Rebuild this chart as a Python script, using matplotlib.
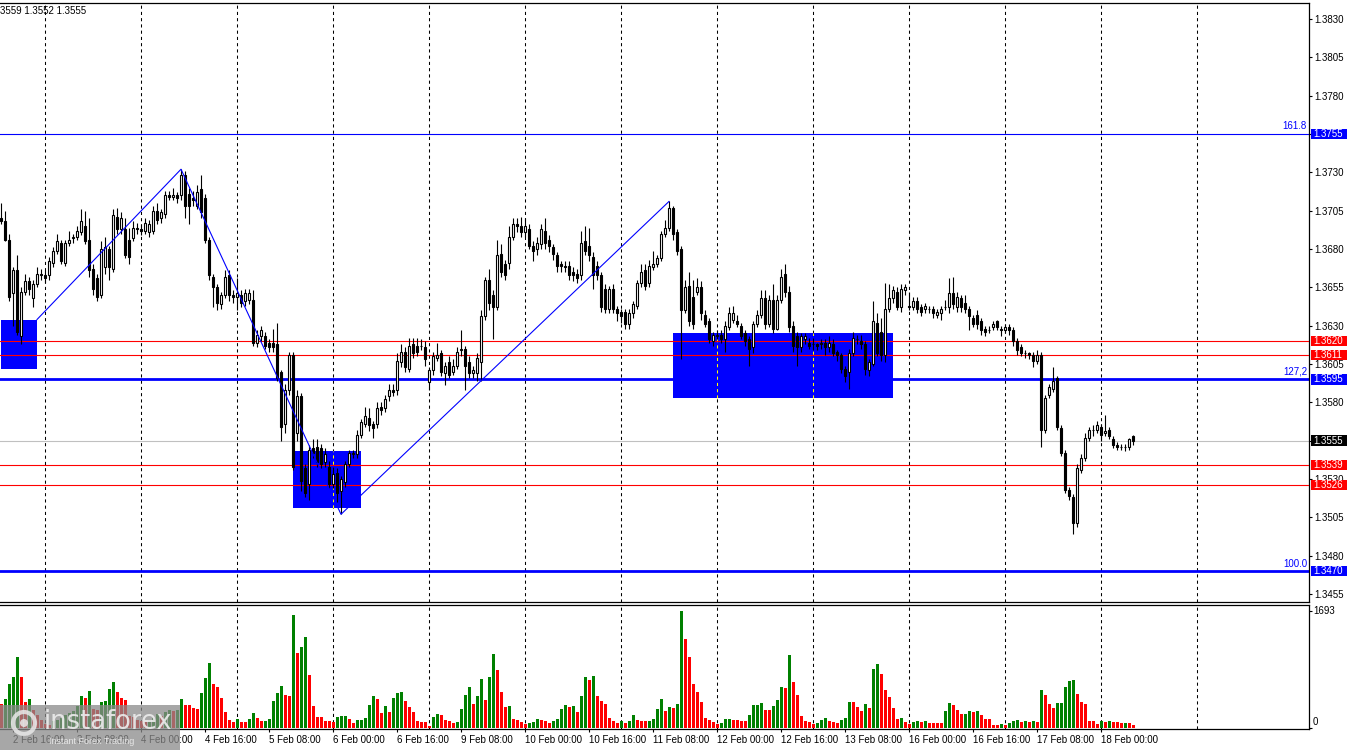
import numpy as np
import matplotlib.pyplot as plt
from matplotlib.patches import Rectangle, Circle
from matplotlib.transforms import blended_transform_factory
from matplotlib.ticker import FormatStrFormatter

plt.rcParams['font.family'] = ['Liberation Sans', 'DejaVu Sans']

# H1 bars, prices in pips above 1.3500 (one row = one day of 24 bars)
BASE = 1.3500
bar_open = [
    200, 198, 186, 151, 166, 123, 152, 159, 148, 157, 164, 163, 163, 171, 179, 184, 171, 184, 187, 188, 191, 195, 186, 167,
    161, 150, 168, 180, 167, 201, 193, 193, 186, 187, 194, 193, 192, 191, 192, 205, 200, 203, 215, 214, 215, 215, 228, 216,
    213, 208, 219, 213, 186, 162, 155, 144, 150, 163, 150, 149, 150, 146, 147, 147, 119, 123, 123, 119, 119, 118, 100, 66,
    88, 111, 60, 84, 37, 27, 50, 51, 50, 41, 38, 27, 34, 22, 28, 40, 46, 46, 59, 66, 70, 66, 66, 77,
    76, 84, 88, 88, 106, 113, 102, 118, 117, 117, 116, 93, 101, 109, 112, 99, 106, 100, 104, 114, 115, 106, 99, 99,
    106, 136, 160, 150, 142, 177, 170, 171, 188, 196, 195, 191, 193, 182, 180, 183, 192, 186, 181, 176, 170, 169, 169, 165,
    164, 163, 185, 182, 175, 169, 163, 154, 141, 154, 141, 139, 139, 131, 138, 143, 158, 166, 158, 168, 170, 174, 190, 194,
    207, 191, 180, 140, 156, 149, 152, 155, 137, 133, 120, 123, 124, 121, 129, 134, 133, 130, 125, 121, 116, 131, 137, 148,
    131, 147, 128, 147, 164, 152, 130, 123, 116, 121, 119, 118, 118, 118, 119, 116, 118, 113, 111, 102, 100, 112, 121, 120,
    118, 101, 105, 132, 126, 111, 141, 148, 152, 142, 153, 143, 142, 146, 142, 141, 141, 141, 137, 138, 142, 142, 151, 142,
    148, 145, 141, 135, 137, 133, 128, 127, 129, 133, 128, 127, 129, 127, 120, 116, 112, 112, 111, 107, 111, 62, 85, 89,
    96, 63, 47, 23, 18, 1, 36, 44, 57, 62, 62, 64, 60, 62, 56, 52, 51, 51, 51, 58,
]
bar_high = [
    210, 205, 190, 168, 176, 155, 164, 162, 160, 168, 167, 166, 175, 181, 190, 186, 186, 192, 190, 195, 206, 205, 200, 170,
    164, 185, 188, 182, 206, 207, 204, 200, 194, 198, 197, 196, 200, 199, 208, 210, 206, 218, 218, 220, 217, 232, 231, 220,
    218, 222, 228, 216, 188, 164, 157, 152, 166, 166, 153, 161, 153, 154, 154, 153, 127, 130, 126, 121, 128, 132, 101, 92,
    113, 113, 88, 86, 40, 52, 56, 56, 53, 50, 42, 38, 37, 32, 42, 49, 49, 62, 69, 77, 76, 68, 80, 80,
    85, 92, 92, 112, 118, 116, 122, 122, 122, 121, 120, 103, 113, 119, 114, 106, 110, 108, 116, 127, 117, 110, 104, 112,
    140, 162, 167, 153, 186, 183, 173, 195, 200, 200, 201, 200, 196, 185, 188, 196, 200, 189, 183, 178, 172, 172, 172, 168,
    167, 192, 195, 194, 178, 172, 165, 157, 156, 157, 143, 141, 141, 141, 146, 160, 170, 170, 173, 179, 176, 192, 199, 211,
    208, 193, 182, 160, 165, 160, 161, 159, 140, 135, 126, 127, 127, 133, 142, 143, 137, 132, 127, 123, 133, 140, 153, 153,
    150, 157, 150, 167, 170, 156, 133, 126, 125, 125, 122, 122, 119, 121, 121, 123, 121, 114, 112, 104, 115, 126, 124, 124,
    120, 108, 146, 138, 135, 158, 157, 156, 155, 157, 157, 152, 149, 149, 144, 145, 143, 143, 141, 143, 147, 161, 162, 152,
    150, 150, 143, 137, 140, 135, 130, 130, 133, 134, 130, 131, 131, 129, 122, 118, 114, 113, 113, 114, 113, 85, 92, 103,
    97, 65, 49, 25, 20, 40, 46, 60, 64, 65, 68, 66, 72, 64, 58, 54, 53, 53, 57, 59,
]
bar_low = [
    196, 185, 146, 130, 124, 118, 150, 150, 142, 155, 160, 158, 160, 168, 177, 170, 169, 182, 184, 186, 189, 183, 162, 150,
    146, 148, 164, 160, 165, 190, 190, 174, 170, 185, 190, 189, 190, 188, 190, 196, 197, 200, 212, 212, 210, 212, 200, 196,
    208, 206, 200, 184, 160, 142, 140, 141, 148, 146, 145, 140, 142, 143, 144, 117, 116, 120, 115, 113, 113, 94, 55, 60,
    85, 36, 55, 22, 18, 16, 44, 38, 37, 38, 24, 24, 15, 7, 25, 38, 44, 44, 57, 64, 61, 57, 63, 72,
    74, 81, 84, 85, 103, 100, 100, 109, 110, 114, 104, 88, 98, 107, 97, 91, 96, 98, 102, 110, 88, 96, 96, 94,
    94, 134, 140, 121, 140, 162, 160, 167, 186, 191, 188, 188, 180, 172, 176, 180, 180, 178, 173, 165, 165, 165, 160, 159,
    158, 160, 176, 172, 154, 160, 139, 138, 138, 138, 133, 132, 128, 128, 135, 141, 155, 153, 155, 166, 168, 172, 188, 192,
    186, 176, 108, 138, 130, 128, 150, 134, 129, 119, 117, 121, 119, 113, 127, 132, 129, 121, 117, 104, 112, 129, 135, 128,
    129, 125, 127, 145, 149, 126, 113, 104, 113, 118, 115, 114, 114, 115, 111, 113, 110, 107, 99, 93, 89, 110, 118, 115,
    98, 97, 104, 110, 107, 106, 139, 145, 140, 139, 150, 140, 140, 138, 136, 138, 138, 135, 135, 134, 140, 138, 141, 139,
    139, 138, 127, 129, 128, 124, 123, 125, 127, 127, 123, 125, 124, 117, 111, 110, 109, 108, 103, 105, 51, 60, 83, 87,
    62, 45, 21, 16, -6, -1, 34, 42, 55, 58, 60, 55, 58, 56, 50, 49, 49, 48, 49, 52,
]
bar_close = [
    198, 186, 149, 166, 126, 152, 159, 154, 157, 164, 163, 161, 172, 179, 185, 172, 184, 186, 188, 192, 198, 185, 166, 154,
    149, 180, 181, 168, 202, 193, 200, 176, 175, 194, 193, 192, 197, 196, 205, 199, 204, 215, 214, 215, 213, 228, 208, 208,
    212, 217, 204, 186, 163, 155, 145, 150, 162, 150, 149, 151, 145, 151, 151, 119, 124, 127, 117, 116, 116, 96, 64, 88,
    111, 38, 84, 29, 21, 49, 47, 41, 40, 46, 27, 33, 21, 30, 40, 47, 47, 59, 67, 71, 65, 63, 76, 75,
    82, 88, 87, 107, 113, 103, 117, 112, 113, 117, 108, 101, 110, 111, 100, 104, 98, 104, 113, 115, 104, 99, 101, 109,
    136, 160, 145, 142, 176, 165, 163, 188, 196, 195, 191, 195, 182, 179, 184, 193, 184, 182, 177, 169, 169, 168, 163, 163,
    161, 184, 179, 176, 163, 163, 142, 141, 154, 141, 138, 136, 131, 138, 144, 158, 165, 156, 169, 170, 174, 190, 194, 207,
    190, 179, 140, 155, 133, 131, 155, 138, 131, 121, 124, 124, 121, 130, 138, 138, 131, 123, 120, 115, 131, 137, 148, 131,
    147, 128, 147, 162, 152, 129, 117, 116, 123, 123, 117, 118, 117, 119, 116, 119, 112, 111, 102, 97, 112, 122, 121, 118,
    102, 106, 133, 112, 111, 141, 148, 153, 142, 154, 155, 142, 146, 141, 139, 143, 141, 138, 139, 141, 142, 151, 144, 149,
    142, 141, 136, 131, 131, 127, 126, 127, 131, 129, 127, 129, 127, 120, 114, 112, 112, 111, 107, 111, 62, 83, 90, 94,
    64, 47, 23, 19, 1, 37, 44, 57, 62, 62, 65, 59, 61, 58, 52, 51, 51, 51, 56, 55,
]
volume = [
    352, 424, 641, 733, 1031, 742, 380, 424, 265, 193, 120, 63, 48, 96, 120, 145, 193, 217, 241, 313, 467, 438, 540, 275,
    265, 376, 395, 569, 660, 516, 434, 410, 169, 159, 120, 96, 82, 110, 150, 200, 180, 230, 260, 240, 265, 424, 337, 337,
    294, 280, 511, 728, 945, 641, 598, 438, 236, 120, 92, 135, 92, 92, 135, 222, 149, 101, 106, 130, 395, 511, 612, 482,
    467, 1639, 1089, 1176, 1321, 771, 323, 164, 159, 106, 96, 92, 154, 174, 178, 135, 77, 111, 120, 149, 337, 467, 424, 222,
    323, 236, 438, 511, 525, 395, 308, 236, 106, 92, 92, 29, 159, 207, 193, 120, 100, 72, 80, 280, 482, 598, 352, 467,
    713, 410, 742, 1075, 843, 525, 308, 323, 135, 120, 92, 63, 77, 92, 135, 111, 106, 77, 106, 135, 280, 337, 308, 323,
    236, 467, 742, 699, 757, 467, 395, 352, 149, 106, 77, 106, 77, 106, 193, 120, 106, 96, 106, 135, 280, 424, 251, 308,
    294, 352, 1693, 1292, 1031, 641, 525, 380, 149, 120, 92, 63, 77, 135, 136, 120, 118, 106, 105, 193, 337, 338, 366, 265,
    264, 323, 410, 598, 583, 1060, 670, 482, 178, 106, 92, 63, 77, 120, 149, 106, 92, 77, 120, 149, 380, 379, 308, 251,
    352, 294, 858, 930, 786, 554, 453, 294, 135, 149, 92, 63, 92, 106, 92, 106, 77, 76, 75, 74, 251, 366, 337, 265,
    207, 208, 251, 236, 251, 193, 135, 134, 48, 47, 63, 48, 77, 106, 120, 92, 106, 92, 106, 92, 554, 482, 352, 294,
    366, 367, 598, 684, 699, 496, 380, 352, 106, 105, 63, 106, 92, 106, 92, 91, 77, 78, 77, 48,
]

# levels
red_levels = [1.3620, 1.3611, 1.3539, 1.3526]
fib_levels = [1.3755, 1.3595, 1.3470]
fib_names = ['161.8', '127,2', '100.0']
last_price = 1.3555

# zigzag: bar index and pips
zz_bar = [9, 45, 85, 167]
zz_pips = [134, 232, 7, 211]

# blue zones: first bar, last bar, top / bottom in pips
zone_start = [0, 73, 168]
zone_end = [9, 90, 223]
zone_top = [134, 48, 125]
zone_bottom = [102, 11, 83]

time_labels = ['2 Feb 16:00', '3 Feb 08:00', '4 Feb 00:00', '4 Feb 16:00', '5 Feb 08:00',
               '6 Feb 00:00', '6 Feb 16:00', '9 Feb 08:00', '10 Feb 00:00', '10 Feb 16:00',
               '11 Feb 08:00', '12 Feb 00:00', '12 Feb 16:00', '13 Feb 08:00', '16 Feb 00:00',
               '16 Feb 16:00', '17 Feb 08:00', '18 Feb 00:00']
time_ticks = list(range(3, 284, 16))
day_bars = list(range(11, 300, 24))

o = BASE + np.array(bar_open) / 1e4
h = BASE + np.array(bar_high) / 1e4
l = BASE + np.array(bar_low) / 1e4
c = BASE + np.array(bar_close) / 1e4
x = np.arange(len(o))
vol = np.array(volume)

W, H = 1350, 750
fig = plt.figure(figsize=(W / 100, H / 100), dpi=100)
ax = fig.add_axes([0, 148 / H, 1309 / W, 599 / H])
vax = fig.add_axes([0, 21 / H, 1309 / W, 124 / H])
ylo, yhi = 1.34498, 1.38404
px_per = 599 / (yhi - ylo)
FS = 7

for a in (ax, vax):
    a.spines['left'].set_visible(False)
    for s in ('top', 'right', 'bottom'):
        a.spines[s].set_linewidth(0.9)
    for d in day_bars:
        a.axvline(d, color='black', lw=0.75, ls=(0, (3, 3)), zorder=0.5)

# zones and levels
for s, e, t, b in zip(zone_start, zone_end, zone_top, zone_bottom):
    ax.add_patch(Rectangle((s, BASE + b / 1e4), e - s, (t - b) / 1e4,
                           facecolor='#0000ff', edgecolor='none', zorder=2))
    for d in day_bars:
        if s < d < e:
            ax.vlines(d, BASE + b / 1e4, BASE + t / 1e4, color='yellow',
                      lw=0.75, ls=(0, (3, 3)), zorder=2.5)

ax.axhline(last_price, color='#c0c0c0', lw=0.8, zorder=1.2)
for lev, w in zip(fib_levels, [0.8, 2.0, 2.0]):
    ax.axhline(lev, color='#0000ff', lw=w, zorder=1.5)
for lev in red_levels:
    ax.axhline(lev, color='#ff0000', lw=0.8, zorder=3)

ax.plot(zz_bar, BASE + np.array(zz_pips) / 1e4, color='#0000ff', lw=0.8, zorder=6)

# candles
up = c >= o
ax.vlines(x, l, h, color='black', lw=0.8, zorder=4)
ax.bar(x, c - o, bottom=o, width=0.68, color=np.where(up, 'white', 'black'),
       edgecolor='black', linewidth=0.8, zorder=5)

ax.set_xlim(-0.25, 327)
ax.set_ylim(ylo, yhi)
ax.set_xticks([])
ax.yaxis.tick_right()
ax.set_yticks(BASE + np.arange(-45, 331, 25) / 1e4)
ax.yaxis.set_major_formatter(FormatStrFormatter('%.4f'))
ax.tick_params(axis='y', length=2.2, width=0.8, labelsize=FS, pad=1.5)

# right side price boxes
blend = blended_transform_factory(ax.transAxes, ax.transData)
hh = 5.2 / px_per
boxes = [(v, '#ff0000') for v in red_levels] + [(v, '#0000ff') for v in fib_levels] + [(last_price, 'black')]
for lev, col in boxes:
    ax.add_patch(Rectangle((1311 / 1309, lev - hh), 36 / 1309, 2 * hh, transform=blend,
                           facecolor=col, edgecolor='none', clip_on=False, zorder=10))
    ax.text(1313.5 / 1309, lev, f'{lev:.4f}', transform=blend, color='white', fontsize=FS,
            va='center', ha='left', zorder=11, clip_on=False)
for lev, name in zip(fib_levels, fib_names):
    ax.text(1307 / 1309, lev + 2.5 / px_per, name, transform=blend, color='#0000ff',
            fontsize=FS, ha='right', va='bottom', zorder=7)

fig.text(0, 1 - 11 / H, '3559 1.3552 1.3555', fontsize=FS, va='center', ha='left')

# volumes panel
prev = np.concatenate([[vol[0] + 1], vol[:-1]])
vcol = np.where(vol > prev, '#008000', '#ff0000')
vax.bar(x, vol, width=0.75, color=vcol, linewidth=0, zorder=3)
vax.set_xlim(-0.25, 327)
vax.set_ylim(-14.5, 1780)
vax.yaxis.tick_right()
vax.set_yticks([0, 1693], ['', ''])
vax.tick_params(axis='y', length=2.2, width=0.8)
vtr = blended_transform_factory(vax.transAxes, vax.transData)
vax.text(1313 / 1309, 1693, '1693', transform=vtr, fontsize=FS, va='center', ha='left')
vax.text(1313 / 1309, 80, '0', transform=vtr, fontsize=FS, va='center', ha='left')
vax.set_xticks(time_ticks, time_labels)
vax.tick_params(axis='x', length=2.2, width=0.8, labelsize=FS, pad=2)
for t in vax.get_xticklabels():
    t.set_ha('left')

# watermark
wax = fig.add_axes([0, 0, 180 / W, 45 / H])
wax.set_xlim(0, 180)
wax.set_ylim(45, 0)
wax.axis('off')
wax.add_patch(Rectangle((0, 0), 180, 45, facecolor='#8a8a8a', edgecolor='none', alpha=0.75))
wax.add_patch(Circle((24, 18), 11, fill=False, ec='#e8e8e8', lw=3, alpha=0.85))
wax.add_patch(Circle((24, 18), 4, fc='#e8e8e8', ec='none', alpha=0.85))
wax.text(44, 17, 'instaforex', fontsize=18.5, color='#ececec', va='center', ha='left',
         family='DejaVu Sans', alpha=0.9)
wax.text(49, 37, 'Instant Forex Trading', fontsize=6.5, color='#e6e6e6', va='center', ha='left')

fig.savefig('out.png', dpi=100)
